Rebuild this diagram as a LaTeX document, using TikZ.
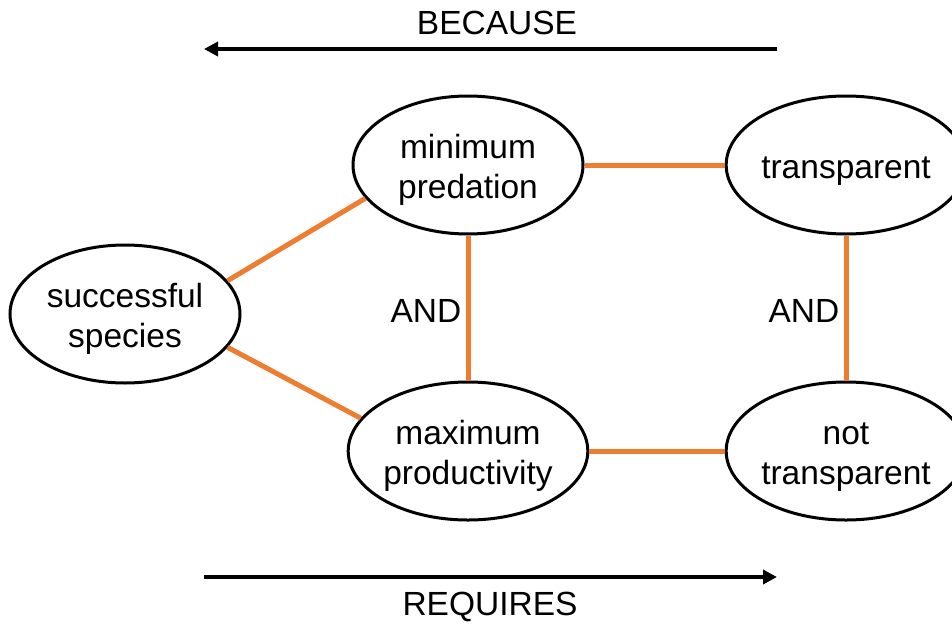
\documentclass[tikz,border=0pt]{standalone}
\usepackage{fontspec}
\setmainfont{Liberation Sans}
\usetikzlibrary{shapes.geometric,arrows.meta}
\definecolor{linkorange}{RGB}{237,125,49}
\newcommand\mytopstrut{\rule{0pt}{34pt}}
\begin{document}
\begin{tikzpicture}[x=1pt,y=-1pt,
  concept/.style={draw=black,line width=3pt,ellipse,minimum width=230pt,minimum height=138pt,
    inner sep=0pt,align=center,font=\fontsize{33.5}{40}\selectfont},
  label/.style={font=\fontsize{33.5}{40}\selectfont,inner sep=0pt},
  link/.style={draw=linkorange,line width=5pt},
  dirarrow/.style={draw=black,line width=4pt,-{Triangle[length=14pt,width=14pt]}}]
\useasboundingbox (0,0) rectangle (952,626);
\node[concept] (ss) at (125,314) {\mytopstrut successful\\species};
\node[concept] (mp) at (468,165) {\mytopstrut minimum\\predation};
\node[concept] (mx) at (468,451) {\mytopstrut maximum\\productivity};
\node[concept] (tr) at (846,165) {\mytopstrut transparent};
\node[concept] (nt) at (846,451) {\mytopstrut not\\transparent};
\draw[link] (ss.18) -- (mp.198);
\draw[link] (ss.-18) -- (mx.163);
\draw[link] (mp.south) -- (mx.north);
\draw[link] (mp.east) -- (tr.west);
\draw[link] (tr.south) -- (nt.north);
\draw[link] (mx.east) -- (nt.west);
\node[label] (and1) at (426,311) {AND};
\node[label] (and2) at (804,311) {AND};
\coordinate (b1) at (777,49);
\coordinate (b2) at (204,49);
\coordinate (r1) at (204,577);
\coordinate (r2) at (777,577);
\draw[dirarrow] (b1) -- (b2);
\draw[dirarrow] (r1) -- (r2);
\node[label] (because) at (497,23) {BECAUSE};
\node[label] (requires) at (490,607) {REQUIRES};
\end{tikzpicture}
\end{document}
